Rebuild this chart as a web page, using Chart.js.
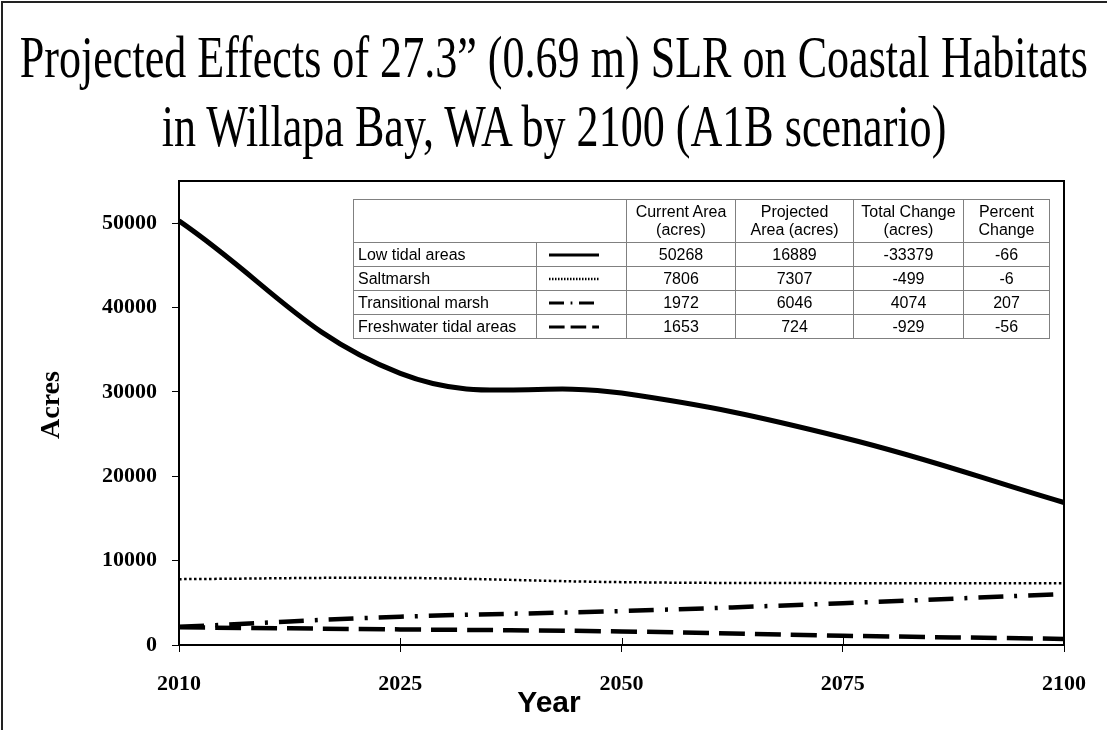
<!DOCTYPE html>
<html>
<head>
<meta charset="utf-8">
<script src="https://cdn.jsdelivr.net/npm/chart.js@4.4.0/dist/chart.umd.min.js"></script>
<style>
  body { margin: 0; background: #fff; }
  #wrap { position: relative; width: 1107px; height: 730px; overflow: hidden; background: #fff; }
  #frame { position: absolute; left: 1px; top: 1px; right: -5px; bottom: -5px; border-left: 2px solid #222; border-top: 2px solid #222; }
  .title { position: absolute; left: -1000px; width: 3107px; text-align: center; font-family: 'Liberation Serif', 'Times New Roman', serif; font-size: 60px; line-height: 1; white-space: nowrap; color: #000; }
  .title span { display: inline-block; transform-origin: center; }
  #yTitle { position: absolute; left: 50px; top: 405px; transform: translate(-50%, -50%) rotate(-90deg); font-family: 'Liberation Serif', serif; font-weight: bold; font-size: 28px; }
  #xTitle { position: absolute; left: 549px; top: 702px; transform: translate(-50%, -50%); font-family: 'Liberation Sans Narrow', 'Liberation Sans', sans-serif; font-weight: bold; font-size: 30px; }
  #tbl { position: absolute; left: 353px; top: 199px; border-collapse: collapse; background: #fff; font-family: 'Liberation Sans', Arial, sans-serif; font-size: 16px; color: #000; }
  #tbl td { border: 1px solid #808080; padding: 0 4px; text-align: center; height: 23px; line-height: 18px; }
  #tbl tr.head td { height: 42px; }
  #tbl td.name { text-align: left; }
</style>
</head>
<body>
<div id="wrap">
  <canvas id="chart" width="1107" height="730"></canvas>
  <div id="frame"></div>
  <div class="title" style="top:27px"><span id="t1">Projected Effects of 27.3” (0.69 m) SLR on Coastal Habitats</span></div>
  <div class="title" style="top:96px"><span id="t2">in Willapa Bay, WA by 2100 (A1B scenario)</span></div>
  <div id="yTitle">Acres</div>
  <div id="xTitle">Year</div>
  <table id="tbl"></table>
</div>
<script>
// values
const years = ['2010', '2025', '2050', '2075', '2100'];
const lowTidal = [50268, 32200, 29860, 24600, 16889];
const saltmarsh = [7806, 7950, 7450, 7330, 7307];
const transitional = [2150, 3350, 4020, 4960, 6046];
const freshwater = [2100, 1850, 1610, 1100, 724];
const yTicks = [0, 10000, 20000, 30000, 40000, 50000];

// summary table
const habitats = ['Low tidal areas', 'Saltmarsh', 'Transitional marsh', 'Freshwater tidal areas'];
const currentArea = [50268, 7806, 1972, 1653];
const projectedArea = [16889, 7307, 6046, 724];
const totalChange = [-33379, -499, 4074, -929];
const percentChange = [-66, -6, 207, -56];

const lineStyles = [
  { width: 5, dash: [] },
  { width: 2.5, dash: [2.5, 2.5] },
  { width: 4.5, dash: [25, 11, 3, 11] },
  { width: 4.5, dash: [26, 10] }
];

// title: squeeze to the width of the original
const t1 = document.getElementById('t1');
const t2 = document.getElementById('t2');
const sx = 1068 / t1.getBoundingClientRect().width;
t1.style.transform = 'scaleX(' + sx + ')';
t2.style.transform = 'scaleX(' + sx + ')';

// table
const tbl = document.getElementById('tbl');
const colW = [183, 91, 110, 119, 111, 87];
let html = '<tr class="head"><td colspan="2" style="width:' + (colW[0] + colW[1] - 10) + 'px"></td>' +
  '<td style="width:' + (colW[2] - 10) + 'px">Current Area<br>(acres)</td>' +
  '<td style="width:' + (colW[3] - 10) + 'px">Projected<br>Area (acres)</td>' +
  '<td style="width:' + (colW[4] - 10) + 'px">Total Change<br>(acres)</td>' +
  '<td style="width:' + (colW[5] - 10) + 'px">Percent<br>Change</td></tr>';
habitats.forEach((h, i) => {
  const st = lineStyles[i];
  const sample = '<svg width="60" height="8" style="display:block;margin:0 auto 0 8px"><line x1="0" y1="4" x2="50" y2="4" stroke="#000" stroke-width="' +
    Math.min(st.width, 3) + '" stroke-dasharray="' + (st.dash.length ? st.dash.map(d => d * 0.6).join(',') : 'none') + '"/></svg>';
  html += '<tr><td class="name" style="width:' + (colW[0] - 10) + 'px">' + h + '</td>' +
    '<td style="width:' + (colW[1] - 10) + 'px">' + sample + '</td>' +
    '<td>' + currentArea[i] + '</td><td>' + projectedArea[i] + '</td>' +
    '<td>' + totalChange[i] + '</td><td>' + percentChange[i] + '</td></tr>';
});
tbl.innerHTML = html;

// plot frame plus the short inward ticks on the year axis
const framePlugin = {
  id: 'framePlugin',
  afterDraw(chart) {
    const { ctx, chartArea: a, scales } = chart;
    ctx.save();
    ctx.strokeStyle = '#000';
    ctx.lineWidth = 2;
    ctx.strokeRect(a.left, a.top, a.right - a.left, a.bottom - a.top);
    ctx.lineWidth = 1;
    ctx.beginPath();
    for (let i = 1; i < years.length - 1; i++) {
      const x = Math.round(scales.x.getPixelForTick(i)) + 0.5;
      ctx.moveTo(x, a.bottom);
      ctx.lineTo(x, a.bottom - 7);
    }
    ctx.stroke();
    ctx.restore();
  }
};

const series = [lowTidal, saltmarsh, transitional, freshwater];
const tickFont = { family: "'Liberation Serif', 'Times New Roman', serif", size: 22, weight: 'bold' };

new Chart(document.getElementById('chart').getContext('2d'), {
  type: 'line',
  data: {
    labels: years,
    datasets: series.map((data, i) => ({
      label: habitats[i],
      data: data,
      borderColor: '#000',
      borderWidth: lineStyles[i].width,
      borderDash: lineStyles[i].dash,
      borderCapStyle: 'butt',
      pointRadius: 0,
      tension: 0.4,
      fill: false
    }))
  },
  options: {
    responsive: false,
    animation: false,
    layout: { padding: { top: 181, right: 43, left: 0, bottom: 0 } },
    plugins: { legend: { display: false }, tooltip: { enabled: false } },
    scales: {
      x: {
        offset: false,
        grid: { drawOnChartArea: false, drawTicks: true, tickLength: 7, color: '#000' },
        border: { display: false },
        ticks: { color: '#000', font: tickFont, padding: 19, maxRotation: 0 },
        afterFit(scale) { scale.height = 85; }
      },
      y: {
        min: 0,
        max: 55000,
        grid: { drawOnChartArea: false, drawTicks: true, tickLength: 7, color: '#000' },
        border: { display: false },
        ticks: { color: '#000', font: tickFont, padding: 15, callback: v => String(v) },
        afterBuildTicks(scale) { scale.ticks = yTicks.map(v => ({ value: v })); },
        afterFit(scale) { scale.width = 179; }
      }
    }
  },
  plugins: [framePlugin]
});
</script>
</body>
</html>
